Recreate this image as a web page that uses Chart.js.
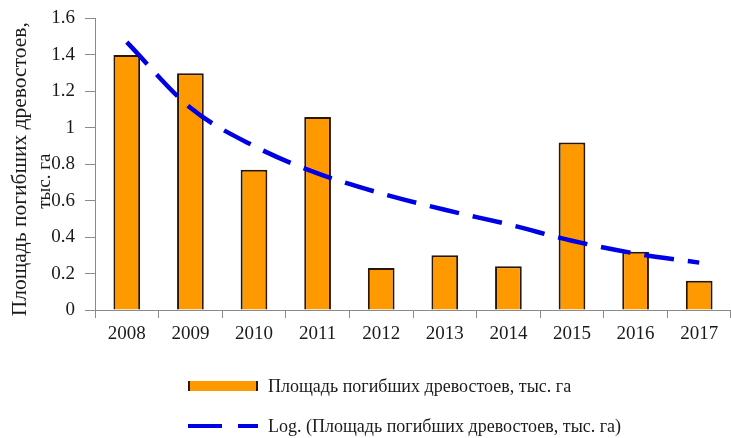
<!DOCTYPE html>
<html>
<head>
<meta charset="utf-8">
<script src="https://cdn.jsdelivr.net/npm/chart.js@4"></script>
<style>
  body { margin: 0; background: #fff; }
  #wrap { position: relative; width: 731px; height: 438px; }
  #legend { position: absolute; left: 188px; top: 366px; font-family: "Liberation Serif", serif; font-size: 18px; color: #1a1a1a; }
  .item { display: flex; align-items: center; height: 40px; }
  .sw { width: 70px; height: 14px; margin-right: 10px; position: relative; }
</style>
</head>
<body>
<div id="wrap">
  <canvas id="chart" width="731" height="438"></canvas>
  <div id="legend"></div>
</div>
<script>
// Data
const years = ['2008', '2009', '2010', '2011', '2012', '2013', '2014', '2015', '2016', '2017'];
const area = [1.40, 1.30, 0.77, 1.06, 0.23, 0.30, 0.24, 0.92, 0.32, 0.16];
const logTrend = [1.47, 1.11, 0.90, 0.75, 0.64, 0.55, 0.47, 0.38, 0.31, 0.26];
const seriesName = 'Площадь погибших древостоев, тыс. га';
const trendName = 'Log. (Площадь погибших древостоев, тыс. га)';
const yTitle = ['Площадь погибших древостоев,', 'тыс. га'];

const font = { family: '"Liberation Serif", serif', size: 19 };
const axisColor = '#8a8a8a';

// y axis title drawn by hand so the second line overlaps the ticks like the original
const yTitlePlugin = {
    id: 'yTitle',
    afterDraw(chart) {
        const ctx = chart.ctx;
        const area = chart.chartArea;
        const cy = (area.top + area.bottom) / 2 + 5;
        ctx.save();
        ctx.fillStyle = '#1a1a1a';
        ctx.font = '21.5px "Liberation Serif", serif';
        ctx.textAlign = 'center';
        ctx.textBaseline = 'middle';
        ctx.translate(20, cy);
        ctx.rotate(-Math.PI / 2);
        ctx.fillText(yTitle[0], 0, 0);
        ctx.font = '19px "Liberation Serif", serif';
        ctx.fillText(yTitle[1], -12, 25);
        ctx.restore();
    }
};

const chart = new Chart(document.getElementById('chart'), {
    type: 'bar',
    data: {
        labels: years,
        datasets: [{
            type: 'line',
            label: trendName,
            data: logTrend,
            borderColor: '#0000e6',
            borderWidth: 4.5,
            borderDash: [30, 14],
            pointRadius: 0,
            cubicInterpolationMode: 'monotone',
            fill: false,
            order: 0
        }, {
            label: seriesName,
            data: area,
            backgroundColor: '#ff9900',
            borderColor: '#2a1606',
            borderWidth: 2,
            categoryPercentage: 1,
            barPercentage: 0.42,
            order: 1
        }]
    },
    options: {
        responsive: false,
        animation: false,
        layout: { padding: { top: 18.5, right: 0, left: 0, bottom: 0 } },
        plugins: { legend: { display: false }, tooltip: { enabled: false } },
        scales: {
            x: {
                afterFit: s => { s.height = 128; },
                grid: { offset: true, drawOnChartArea: false, tickLength: 8, color: axisColor },
                border: { color: axisColor },
                ticks: { font: font, color: '#1a1a1a', padding: 5 }
            },
            y: {
                min: 0,
                max: 1.6,
                afterFit: s => { s.width = 95; s.paddingTop = 0; s.paddingBottom = 0; },
                grid: { drawOnChartArea: false, tickLength: 10, color: axisColor },
                border: { color: axisColor },
                ticks: {
                    stepSize: 0.2, font: font, color: '#1a1a1a', padding: 10,
                    callback: v => String(Number(v.toFixed(1)))
                }
            }
        }
    },
    plugins: [yTitlePlugin]
});

// HTML legend, stacked like the original
const legend = document.getElementById('legend');
[chart.data.datasets[1], chart.data.datasets[0]].forEach(ds => {
    const item = document.createElement('div');
    item.className = 'item';
    const sw = document.createElement('div');
    sw.className = 'sw';
    if (ds.type === 'line') {
        sw.innerHTML = '<div style="position:absolute;left:0;top:5px;width:34px;height:4px;background:' + ds.borderColor + '"></div>' +
            '<div style="position:absolute;left:50px;top:5px;width:20px;height:4px;background:' + ds.borderColor + '"></div>';
    } else {
        sw.innerHTML = '<div style="position:absolute;left:0;top:2px;width:66px;height:10px;background:' + ds.backgroundColor +
            ';border-left:2px solid ' + ds.borderColor + ';border-right:2px solid ' + ds.borderColor + '"></div>';
    }
    const txt = document.createElement('span');
    txt.textContent = ds.label;
    item.appendChild(sw);
    item.appendChild(txt);
    legend.appendChild(item);
});
</script>
</body>
</html>
